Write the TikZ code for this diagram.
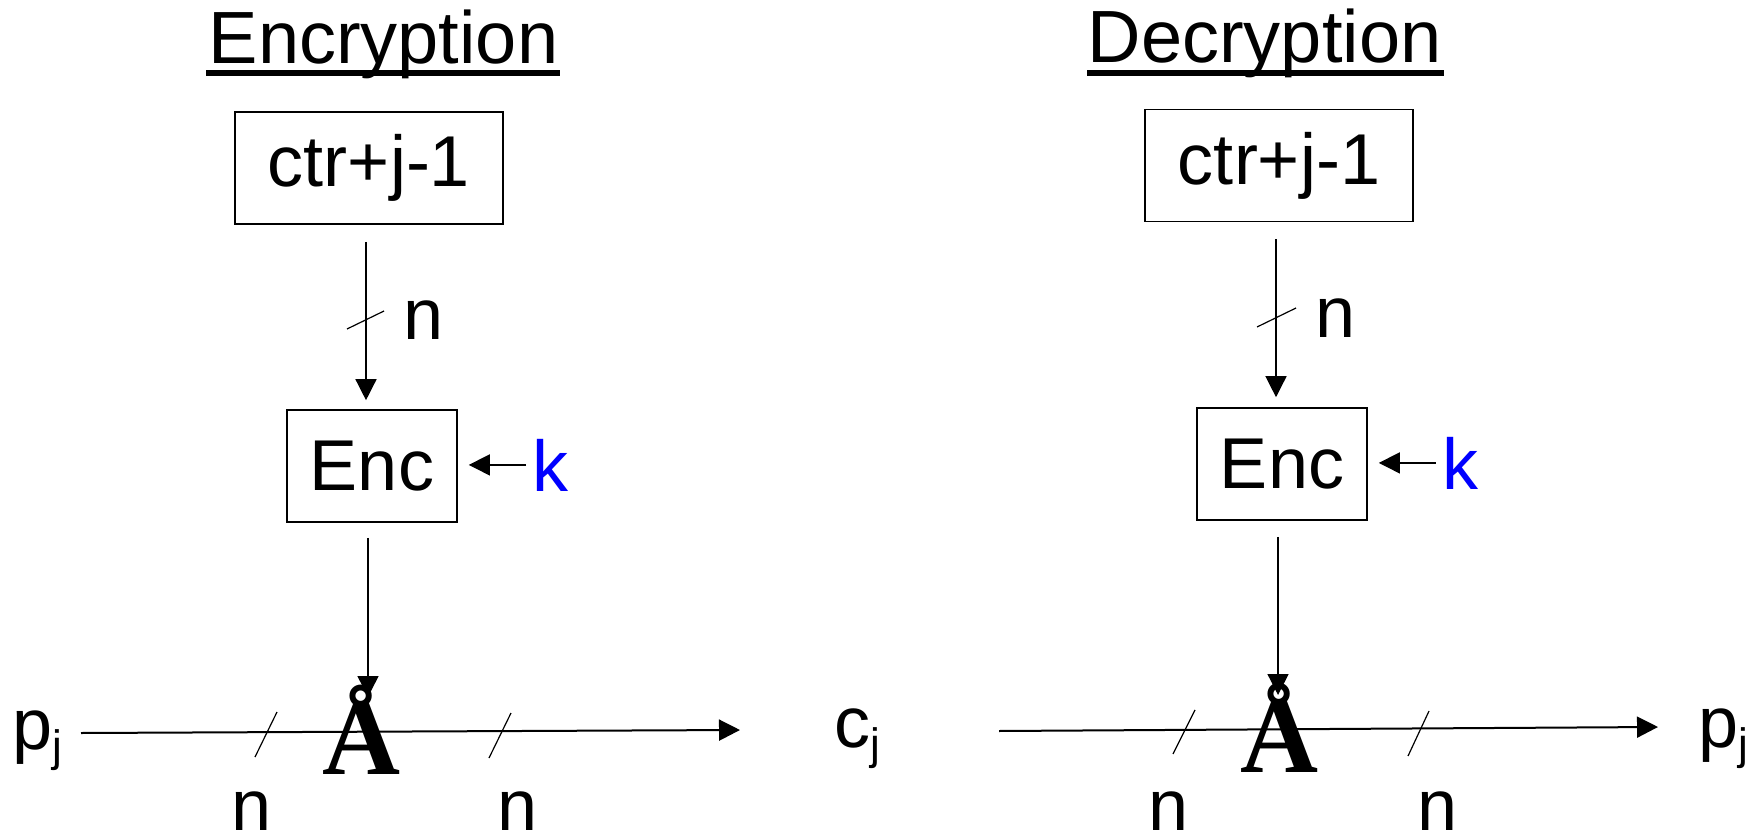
\documentclass[tikz,border=0pt]{standalone}
\usepackage{fontspec}
\setmainfont{Liberation Sans}
\newfontfamily\xorfont{Liberation Serif}
\usetikzlibrary{arrows.meta}
\definecolor{kblue}{RGB}{0,0,255}
\newcommand{\subj}{\raisebox{-6pt}{\fontsize{22}{22}\selectfont j}}
\begin{document}
\begin{tikzpicture}[x=0.5pt,y=-0.5pt,
 box/.style={draw,line width=0.8pt,inner sep=0pt,minimum height=56pt,font=\fontsize{36}{40}\selectfont},
 ctrbox/.style={box,minimum width=134pt},
 encbox/.style={box,minimum width=85pt},
 txt/.style={inner sep=0pt,anchor=base,font=\fontsize{36}{40}\selectfont},
 ttl/.style={inner sep=0pt,anchor=base,font=\fontsize{37}{40}\selectfont},
 keyl/.style={txt,text=kblue},
 xor/.style={inner sep=0pt,anchor=base,font=\xorfont\bfseries\fontsize{54}{60}\selectfont},
 arr/.style={-{Triangle[length=10.5pt,width=10.5pt]},line width=0.7pt},
 flow/.style={-{Triangle[length=10.5pt,width=10.5pt]},line width=1pt},
 tick/.style={line width=0.6pt},
 uline/.style={line width=3pt}]
\useasboundingbox (0,0) rectangle (1748,839);

% ---------------- Encryption ----------------
\node[ttl] (t1) at (383.5,64) {Encryption};
\draw[uline] (206,73.5) -- (560,73.5);
\node[ctrbox] (c1) at (369,168) {ctr+j-1};
\node[encbox] (e1) at (372,466) {Enc};
\node[keyl] (k1) at (550.5,491) {k};
\coordinate (v1) at (366,0);
\coordinate (w1) at (368,697);
\draw[arr,shorten <=8.5pt,shorten >=4.5pt] (c1.south -| v1) -- (e1.north -| v1);
\draw[tick] (347,329) -- (384,311);
\node[txt] (n1) at (424,339) {n};
\draw[arr,shorten <=3pt,shorten >=5.5pt] (k1.west) -- (k1.west -| e1.east);
\draw[arr,shorten <=7.5pt] (e1.south -| w1) -- (w1);
\node[xor] (x1) at (361.5,774) {Å};
\node[txt,anchor=base west] (p1) at (12,749) {p\subj};
\node[txt,anchor=base west] (cj) at (834,747) {c\subj};
\coordinate (a1) at (81,733);
\coordinate (b1) at (740,730);
\draw[flow] (a1) -- (b1);
\draw[tick] (255,757) -- (277,712);
\draw[tick] (489,758) -- (511,713);
\node[txt] (n2) at (252,830) {n};
\node[txt] (n3) at (518,830) {n};

% ---------------- Decryption ----------------
\node[ttl] (t2) at (1264.5,63) {Decryption};
\draw[uline] (1087,73.5) -- (1444,73.5);
\node[ctrbox] (c2) at (1279,165.5) {ctr+j-1};
\node[encbox] (e2) at (1282,464) {Enc};
\node[keyl] (k2) at (1460,489) {k};
\coordinate (v2) at (1276,0);
\coordinate (w2) at (1278,695);
\draw[arr,shorten <=8.5pt,shorten >=5pt] (c2.south -| v2) -- (e2.north -| v2);
\draw[tick] (1257,327) -- (1296,308);
\node[txt] (n4) at (1335,337) {n};
\draw[arr,shorten <=3pt,shorten >=5.5pt] (k2.west) -- (k2.west -| e2.east);
\draw[arr,shorten <=8pt] (e2.south -| w2) -- (w2);
\node[xor] (x2) at (1279.5,772) {Å};
\node[txt,anchor=base west] (p2) at (1698,747) {p\subj};
\coordinate (a2) at (999,731);
\coordinate (b2) at (1658,727);
\draw[flow] (a2) -- (b2);
\draw[tick] (1173,754) -- (1195,710);
\draw[tick] (1408,756) -- (1429,711);
\node[txt] (n5) at (1169,830) {n};
\node[txt] (n6) at (1437,830) {n};
\end{tikzpicture}
\end{document}
